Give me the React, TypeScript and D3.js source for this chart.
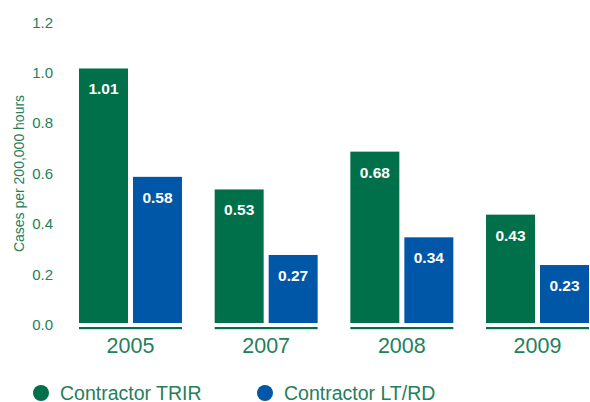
import React from "react";
import * as d3 from "d3";

const years = ["2005", "2007", "2008", "2009"];
const seriesNames = ["Contractor TRIR", "Contractor LT/RD"];
const trir = [1.01, 0.53, 0.68, 0.43];
const ltrd = [0.58, 0.27, 0.34, 0.23];
const yTicks = [0, 0.2, 0.4, 0.6, 0.8, 1.0, 1.2];
const colors = ["#00704a", "#0057a8"];
const textGreen = "#24805a";

const W = 590;
const H = 402;

export default function App() {
  const x = d3.scaleBand<string>().domain(years).range([79, 589]).paddingInner(0.241).paddingOuter(0);
  const xi = d3.scaleBand<string>().domain(seriesNames).range([0, x.bandwidth()]).paddingInner(0.0926).paddingOuter(0);
  const y = d3.scaleLinear().domain([0, 1.2]).range([323, 20.6]);
  const values = [trir, ltrd];
  const fmt = d3.format(".1f");
  const fmt2 = d3.format(".2f");

  return (
    <svg width={W} height={H} style={{ position: "absolute", left: 0, top: 0, display: "block" }}
      fontFamily="'Liberation Sans', Arial, sans-serif">
      <rect width={W} height={H} fill="#fff" />
      {yTicks.map((t) => (
        <text key={t} x={53} y={y(t) + 7} textAnchor="end" fontSize={15} fill={textGreen}>
          {fmt(t)}
        </text>
      ))}
      <text transform={`translate(24,173.5) rotate(-90)`} textAnchor="middle" fontSize={14} fill={textGreen}>
        Cases per 200,000 hours
      </text>
      {years.map((yr, i) => {
        const gx = x(yr)!;
        return (
          <g key={yr}>
            {seriesNames.map((s, j) => {
              const bx = gx + xi(s)!;
              const v = values[j][i];
              return (
                <g key={s}>
                  <rect x={bx} y={y(v)} width={xi.bandwidth()} height={y(0) - y(v)} fill={colors[j]} />
                  <text x={bx + xi.bandwidth() / 2} y={y(v) + 26} textAnchor="middle" fontSize={15.5}
                    fontWeight="bold" fill="#fff">
                    {fmt2(v)}
                  </text>
                </g>
              );
            })}
            <rect x={gx} y={327} width={x.bandwidth()} height={2.2} fill={colors[0]} />
            <text x={gx + x.bandwidth() / 2} y={353} textAnchor="middle" fontSize={21.5} fill={textGreen}>
              {yr}
            </text>
          </g>
        );
      })}
      {seriesNames.map((s, j) => {
        const lx = j === 0 ? 41 : 265;
        return (
          <g key={s}>
            <circle cx={lx} cy={393} r={8} fill={colors[j]} />
            <text x={lx + 19} y={399.5} fontSize={19.5} fill={textGreen}>
              {s}
            </text>
          </g>
        );
      })}
    </svg>
  );
}
